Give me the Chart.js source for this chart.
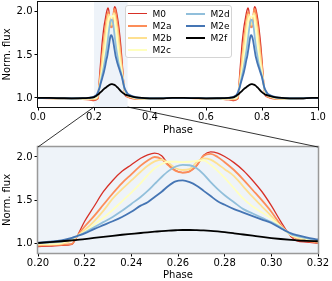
<!DOCTYPE html>
<html>
<head>
<meta charset="utf-8">
<script src="https://cdn.jsdelivr.net/npm/chart.js@4.4.1/dist/chart.umd.min.js"></script>
<style>
    html, body { margin: 0; padding: 0; background: #fff; }
    #wrap { position: relative; width: 332px; height: 281px; overflow: hidden; }
    #top { position: absolute; left: 0; top: 0; }
    #bottom { position: absolute; left: 0; top: 140px; }
    #links { position: absolute; left: 0; top: 0; pointer-events: none; }
    #legend { position: absolute; left: 125px; top: 5px; width: 105px; height: 51px;
              border: 1px solid #d4d4d4; border-radius: 3px; background: rgba(255,255,255,0.9);
              font-family: 'DejaVu Sans'; font-size: 9px; color: #000; }
    .item { position: absolute; height: 12px; line-height: 12px; width: 56px; }
    .swatch { position: absolute; left: 0; width: 19px; }
    .name { position: absolute; left: 25px; top: 0; white-space: nowrap; }
</style>
</head>
<body>
<div id="wrap">
    <canvas id="top" width="332" height="140"></canvas>
    <canvas id="bottom" width="332" height="141"></canvas>
    <canvas id="links" width="332" height="281"></canvas>
    <div id="legend"></div>
</div>
<script>
var labels = ['M0', 'M2a', 'M2b', 'M2c', 'M2d', 'M2e', 'M2f'];
var colors = ['#d73027', '#fc8d59', '#fee090', '#ffffbf', '#91bfdb', '#4575b4', '#000000'];
var widths = [1.3, 1.8, 1.8, 1.8, 1.8, 1.8, 1.8];

var xTicksFull = [0.0, 0.2, 0.4, 0.6, 0.8, 1.0];
var xTicksZoom = [0.20, 0.22, 0.24, 0.26, 0.28, 0.30, 0.32];
var yTicks = [1.0, 1.5, 2.0];
var zoomRange = [0.20, 0.32];

// phases outside the flares and across each flare
var phaseStart = [0.00, 0.04, 0.08, 0.12, 0.16, 0.18, 0.19];
var phasePeak1 = [0.200, 0.205, 0.210, 0.2145, 0.2168, 0.220, 0.224, 0.228, 0.232, 0.236, 0.240, 0.244, 0.247, 0.250, 0.253, 0.256, 0.259, 0.262, 0.265, 0.268, 0.271, 0.274, 0.277, 0.280, 0.284, 0.288, 0.292, 0.296, 0.300, 0.304, 0.3085, 0.311, 0.315, 0.320];
var phaseMid = [0.33, 0.34, 0.36, 0.40, 0.44, 0.48, 0.52, 0.56, 0.60, 0.64, 0.66, 0.68, 0.69];
var phasePeak2 = [0.700, 0.705, 0.710, 0.7145, 0.7168, 0.720, 0.724, 0.728, 0.732, 0.736, 0.740, 0.744, 0.747, 0.750, 0.753, 0.756, 0.759, 0.762, 0.765, 0.768, 0.771, 0.774, 0.777, 0.780, 0.784, 0.788, 0.792, 0.796, 0.800, 0.804, 0.8085, 0.811, 0.815, 0.820];
var phaseEnd = [0.83, 0.84, 0.86, 0.90, 0.94, 0.98, 1.00];

// flux across a flare (same shape for both flares)
var m0Peak = [0.970, 0.975, 0.982, 0.995, 1.090, 1.260, 1.430, 1.600, 1.730, 1.835, 1.910, 1.985, 2.025, 2.045, 2.015, 1.910, 1.845, 1.820, 1.835, 1.900, 2.020, 2.060, 2.045, 2.005, 1.935, 1.845, 1.730, 1.600, 1.440, 1.260, 1.080, 1.035, 1.020, 1.010];
var m2aPeak = [0.980, 0.985, 0.990, 1.000, 1.090, 1.200, 1.320, 1.450, 1.580, 1.700, 1.800, 1.900, 1.960, 2.000, 1.975, 1.900, 1.840, 1.820, 1.835, 1.900, 2.015, 2.035, 2.000, 1.940, 1.850, 1.740, 1.620, 1.500, 1.370, 1.220, 1.100, 1.060, 1.035, 1.015];
var m2bPeak = [0.990, 0.993, 1.000, 1.040, 1.090, 1.160, 1.260, 1.380, 1.520, 1.630, 1.730, 1.830, 1.900, 1.950, 1.970, 1.930, 1.870, 1.850, 1.860, 1.940, 1.985, 1.970, 1.920, 1.860, 1.780, 1.660, 1.540, 1.430, 1.320, 1.200, 1.100, 1.070, 1.045, 1.025];
var m2cPeak = [1.000, 1.000, 1.010, 1.050, 1.090, 1.140, 1.220, 1.300, 1.390, 1.490, 1.590, 1.700, 1.790, 1.870, 1.920, 1.945, 1.945, 1.940, 1.945, 1.955, 1.960, 1.910, 1.840, 1.760, 1.640, 1.520, 1.430, 1.360, 1.290, 1.200, 1.100, 1.080, 1.055, 1.030];
var m2dPeak = [1.008, 1.015, 1.025, 1.060, 1.090, 1.130, 1.190, 1.250, 1.310, 1.380, 1.460, 1.540, 1.610, 1.690, 1.770, 1.840, 1.890, 1.910, 1.905, 1.870, 1.800, 1.710, 1.630, 1.560, 1.480, 1.400, 1.350, 1.300, 1.250, 1.190, 1.110, 1.090, 1.065, 1.040];
var m2ePeak = [1.015, 1.025, 1.040, 1.070, 1.090, 1.120, 1.170, 1.215, 1.260, 1.310, 1.370, 1.440, 1.480, 1.540, 1.600, 1.670, 1.720, 1.730, 1.710, 1.670, 1.610, 1.550, 1.490, 1.450, 1.400, 1.360, 1.320, 1.280, 1.240, 1.180, 1.120, 1.100, 1.075, 1.050];
var m2fPeak = [1.010, 1.020, 1.030, 1.040, 1.045, 1.055, 1.068, 1.080, 1.093, 1.105, 1.115, 1.125, 1.133, 1.140, 1.147, 1.153, 1.157, 1.160, 1.160, 1.158, 1.155, 1.150, 1.143, 1.135, 1.122, 1.108, 1.094, 1.080, 1.067, 1.056, 1.045, 1.040, 1.035, 1.030];

// flux at phaseStart, phaseMid, phaseEnd in that order
var m0Base = [1.000, 0.996, 0.992, 0.990, 0.986, 0.980, 0.974, 1.000, 0.992, 0.985, 0.988, 0.994, 1.000, 1.000, 0.996, 0.992, 0.990, 0.986, 0.980, 0.974, 1.000, 0.992, 0.985, 0.988, 0.994, 1.000, 1.000];
var m2aBase = [1.000, 0.996, 0.993, 0.991, 0.988, 0.984, 0.981, 1.005, 0.996, 0.988, 0.990, 0.995, 1.000, 1.000, 0.996, 0.993, 0.991, 0.988, 0.984, 0.981, 1.005, 0.996, 0.988, 0.990, 0.995, 1.000, 1.000];
var m2bBase = [1.000, 0.997, 0.994, 0.992, 0.991, 0.990, 0.989, 1.012, 1.002, 0.992, 0.991, 0.995, 1.000, 1.000, 0.997, 0.994, 0.992, 0.991, 0.990, 0.989, 1.012, 1.002, 0.992, 0.991, 0.995, 1.000, 1.000];
var m2cBase = [1.000, 0.997, 0.995, 0.993, 0.993, 0.994, 0.996, 1.018, 1.006, 0.995, 0.992, 0.995, 1.000, 1.000, 0.997, 0.995, 0.993, 0.993, 0.994, 0.996, 1.018, 1.006, 0.995, 0.992, 0.995, 1.000, 1.000];
var m2dBase = [1.000, 0.998, 0.996, 0.994, 0.995, 0.998, 1.002, 1.024, 1.010, 0.999, 0.994, 0.996, 1.000, 1.000, 0.998, 0.996, 0.994, 0.995, 0.998, 1.002, 1.024, 1.010, 0.999, 0.994, 0.996, 1.000, 1.000];
var m2eBase = [1.000, 0.998, 0.996, 0.995, 0.997, 1.002, 1.008, 1.032, 1.018, 1.004, 0.996, 0.996, 1.000, 1.000, 0.998, 0.996, 0.995, 0.997, 1.002, 1.008, 1.032, 1.018, 1.004, 0.996, 0.996, 1.000, 1.000];
var m2fBase = [1.000, 1.000, 0.998, 0.996, 0.997, 1.000, 1.004, 1.022, 1.014, 1.004, 0.996, 0.996, 1.000, 1.000, 0.998, 0.996, 0.997, 0.998, 1.000, 1.004, 1.022, 1.014, 1.004, 0.996, 0.996, 1.000, 1.000];

var peaks = [m0Peak, m2aPeak, m2bPeak, m2cPeak, m2dPeak, m2ePeak, m2fPeak];
var bases = [m0Base, m2aBase, m2bBase, m2cBase, m2dBase, m2eBase, m2fBase];

Chart.defaults.font.family = 'DejaVu Sans';
Chart.defaults.font.size = 10;
Chart.defaults.color = '#000';

function fullCurve(i) {
    var b = bases[i], p = peaks[i];
    var xs = phaseStart.concat(phasePeak1, phaseMid, phasePeak2, phaseEnd);
    var ys = b.slice(0, 7).concat(p, b.slice(7, 20), p, b.slice(20));
    return xs.map(function (x, k) { return {x: x, y: ys[k]}; });
}

function zoomCurve(i) {
    return phasePeak1.map(function (x, k) { return {x: x, y: peaks[i][k]}; });
}

function makeDatasets(curve) {
    return labels.map(function (name, i) {
        return {
            label: name,
            data: curve(i),
            borderColor: colors[i],
            borderWidth: widths[i],
            pointRadius: 0,
            fill: false,
            cubicInterpolationMode: 'monotone',
            order: labels.length - 1 - i
        };
    });
}

function makeScales(xmin, xmax, xTicks, dec, xHeight, titlePad) {
    return {
        x: {
            type: 'linear', min: xmin, max: xmax,
            afterBuildTicks: function (s) { s.ticks = xTicks.map(function (v) { return {value: v}; }); },
            afterFit: function (s) { s.height = xHeight; s.paddingLeft = 0; s.paddingRight = 0; },
            ticks: {padding: 1, maxRotation: 0, autoSkip: false, callback: function (v) { return v.toFixed(dec); }},
            grid: {drawOnChartArea: false, tickLength: 3.5, tickColor: '#000', tickWidth: 1},
            border: {display: false},
            title: {display: true, text: 'Phase', padding: {top: 0, bottom: titlePad}}
        },
        y: {
            min: 0.895, max: 2.115,
            afterBuildTicks: function (s) { s.ticks = yTicks.map(function (v) { return {value: v}; }); },
            afterFit: function (s) { s.width = 38; s.paddingTop = 0; s.paddingBottom = 0; },
            ticks: {padding: 2, callback: function (v) { return v.toFixed(1); }},
            grid: {drawOnChartArea: false, tickLength: 3.5, tickColor: '#000', tickWidth: 1},
            border: {display: false},
            title: {display: true, text: 'Norm. flux', padding: {top: 1, bottom: 0}}
        }
    };
}

function framePlugin(opts) {
    return {
        id: 'frame',
        beforeDatasetsDraw: function (chart) {
            var a = chart.chartArea, ctx = chart.ctx;
            ctx.save();
            ctx.fillStyle = '#eef3f9';
            if (opts.fill) {
                ctx.fillRect(a.left, a.top, a.right - a.left, a.bottom - a.top);
            }
            if (opts.shade) {
                var x0 = chart.scales.x.getPixelForValue(opts.shade[0]);
                var x1 = chart.scales.x.getPixelForValue(opts.shade[1]);
                ctx.fillRect(x0, a.top, x1 - x0, a.bottom - a.top);
            }
            ctx.restore();
        },
        afterDatasetsDraw: function (chart) {
            var a = chart.chartArea, ctx = chart.ctx;
            ctx.save();
            ctx.strokeStyle = opts.edge;
            ctx.lineWidth = opts.edgeWidth;
            ctx.strokeRect(a.left - 0.5, a.top - 0.5, a.right - a.left + 1, a.bottom - a.top + 1);
            ctx.restore();
        }
    };
}

var topChart = new Chart(document.getElementById('top'), {
    type: 'line',
    data: {datasets: makeDatasets(fullCurve)},
    options: {
        responsive: false,
        animation: false,
        layout: {autoPadding: false, padding: {left: 0, right: 14, top: 2, bottom: 0}},
        scales: makeScales(0, 1, xTicksFull, 1, 33, 4),
        plugins: {legend: {display: false}, tooltip: {enabled: false}}
    },
    plugins: [framePlugin({shade: zoomRange, edge: '#111', edgeWidth: 1})]
});

var bottomChart = new Chart(document.getElementById('bottom'), {
    type: 'line',
    data: {datasets: makeDatasets(zoomCurve)},
    options: {
        responsive: false,
        animation: false,
        layout: {autoPadding: false, padding: {left: 0, right: 14, top: 7, bottom: 0}},
        scales: makeScales(zoomRange[0], zoomRange[1], xTicksZoom, 2, 28, 0),
        plugins: {legend: {display: false}, tooltip: {enabled: false}}
    },
    plugins: [framePlugin({fill: true, edge: '#999', edgeWidth: 1.5})]
});

// connector lines from the shaded span to the zoomed panel
var lctx = document.getElementById('links').getContext('2d');
var ta = topChart.chartArea, ba = bottomChart.chartArea;
lctx.strokeStyle = '#000';
lctx.lineWidth = 0.8;
lctx.beginPath();
lctx.moveTo(topChart.scales.x.getPixelForValue(zoomRange[0]), ta.bottom);
lctx.lineTo(ba.left, 140 + ba.top);
lctx.moveTo(topChart.scales.x.getPixelForValue(zoomRange[1]), ta.bottom);
lctx.lineTo(ba.right, 140 + ba.top);
lctx.stroke();

var legend = document.getElementById('legend');
labels.forEach(function (name, i) {
    var col = i < 4 ? 0 : 1;
    var row = i < 4 ? i : i - 4;
    var item = document.createElement('div');
    item.className = 'item';
    item.style.left = (col * 58 + 1.5) + 'px';
    item.style.top = (row * 12.2 + 1.5) + 'px';
    var sw = document.createElement('span');
    sw.className = 'swatch';
    sw.style.top = (6 - widths[i] / 2) + 'px';
    sw.style.borderTop = (widths[i] + 0.2) + 'px solid ' + colors[i];
    var tx = document.createElement('span');
    tx.className = 'name';
    tx.textContent = name;
    item.appendChild(sw);
    item.appendChild(tx);
    legend.appendChild(item);
});
</script>
</body>
</html>
